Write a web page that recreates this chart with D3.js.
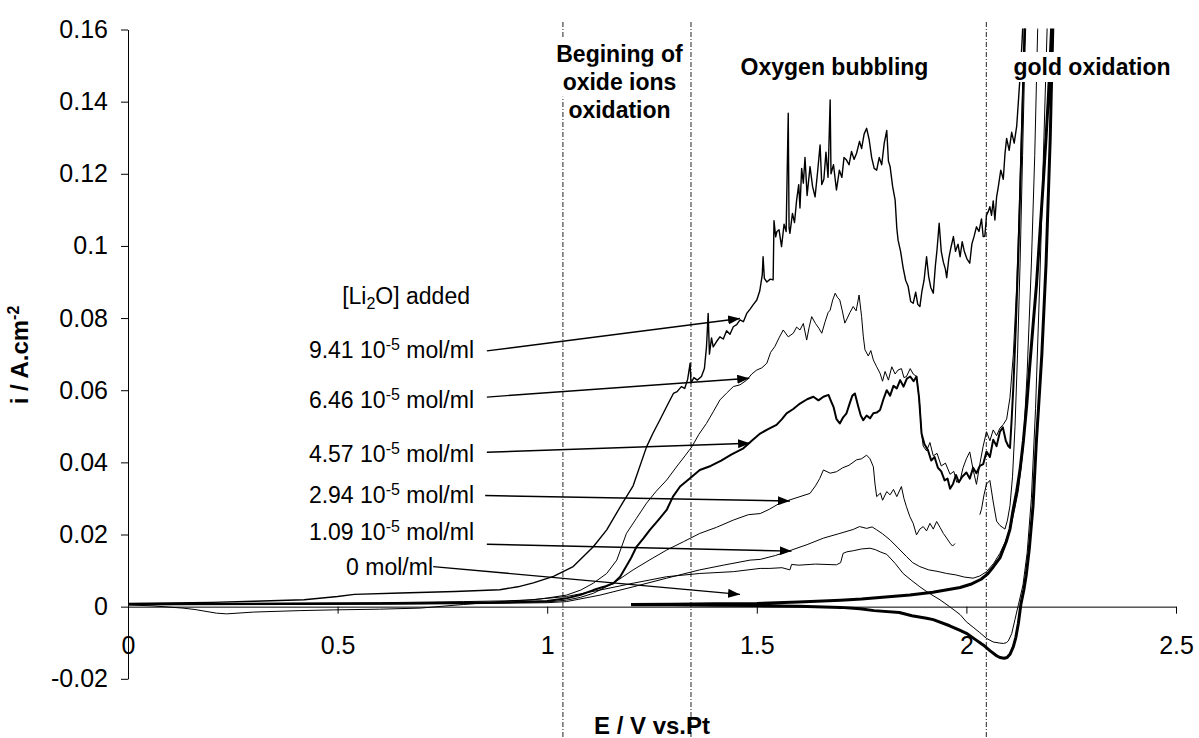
<!DOCTYPE html>
<html><head><meta charset="utf-8">
<script src="https://cdn.jsdelivr.net/npm/d3@7"></script>
<style>
html,body{margin:0;padding:0;background:#fff;}
svg{display:block;font-family:"Liberation Sans",Arial,Helvetica,sans-serif;}
text{white-space:pre;}
</style></head><body>
<svg id="chart" width="1199" height="738"></svg>
<script>
// ---------------- DATA ----------------
const xTicks = [0, 0.5, 1, 1.5, 2, 2.5];
const xTickLabels = ["0", "0.5", "1", "1.5", "2", "2.5"];
const yTicks = [-0.02, 0, 0.02, 0.04, 0.06, 0.08, 0.1, 0.12, 0.14, 0.16];
const yTickLabels = ["-0.02", "0", "0.02", "0.04", "0.06", "0.08", "0.1", "0.12", "0.14", "0.16"];

// region boundaries (E / V)
const regionBounds = [1.0375, 1.343, 2.0475];
const regionTitles = [["Begining of", "oxide ions", "oxidation"], ["Oxygen bubbling"], ["gold oxidation"]];

// concentration labels ([Li2O] added, 10^-5 mol/ml)
const concMantissa = ["9.41", "6.46", "4.57", "2.94", "1.09", "0"];
// arrow start / tip in data units (E, i)
const arrowFrom = [[0.856, 0.0709], [0.856, 0.0581], [0.856, 0.0428], [0.852, 0.0308], [0.856, 0.0173], [0.728, 0.0111]];
const arrowTo   = [[1.460, 0.0799], [1.482, 0.0633], [1.484, 0.0453], [1.579, 0.0293], [1.583, 0.0154], [1.460, 0.0034]];

// 9.41e-5 mol/ml
const cv941 = [[0,0.0009],[0.1,0.0010],[0.2,0.0012],[0.3,0.0015],[0.42,0.0019],[0.5,0.0028],[0.54,0.0034],[0.65,0.0038],[0.78,0.0042],[0.887,0.0047],[0.93,0.0055],[0.967,0.0066],[1.015,0.0084],[1.062,0.0111],[1.11,0.0166],[1.142,0.0213],[1.181,0.0290],[1.205,0.0335],[1.237,0.0443],[1.252,0.048],[1.269,0.0518],[1.285,0.0555],[1.301,0.0591],[1.31,0.0596],[1.32,0.061],[1.328,0.0605],[1.335,0.063],[1.341,0.0675],[1.343,0.062],[1.35,0.0635],[1.358,0.0628],[1.368,0.0638],[1.375,0.066],[1.38,0.072],[1.384,0.0813],[1.387,0.070],[1.392,0.0745],[1.396,0.072],[1.404,0.0735],[1.412,0.0748],[1.42,0.0742],[1.428,0.0765],[1.436,0.0755],[1.444,0.0776],[1.452,0.0782],[1.46,0.0795],[1.468,0.079],[1.476,0.0813],[1.484,0.0825],[1.492,0.0838],[1.5,0.085],[1.507,0.0875],[1.513,0.092],[1.515,0.097],[1.518,0.091],[1.524,0.090],[1.532,0.0908],[1.539,0.0906],[1.541,0.107],[1.545,0.1025],[1.548,0.104],[1.553,0.1045],[1.559,0.0998],[1.565,0.106],[1.57,0.104],[1.575,0.1368],[1.577,0.105],[1.579,0.1035],[1.585,0.109],[1.59,0.1065],[1.595,0.1127],[1.6,0.117],[1.603,0.1105],[1.607,0.1215],[1.611,0.1174],[1.615,0.1245],[1.62,0.114],[1.627,0.122],[1.633,0.1165],[1.639,0.1136],[1.645,0.1205],[1.651,0.128],[1.655,0.117],[1.66,0.1185],[1.665,0.126],[1.67,0.119],[1.675,0.1405],[1.677,0.120],[1.683,0.1225],[1.69,0.1155],[1.697,0.121],[1.703,0.119],[1.708,0.1245],[1.714,0.1238],[1.72,0.1225],[1.726,0.1262],[1.732,0.124],[1.738,0.1257],[1.745,0.129],[1.75,0.127],[1.756,0.131],[1.762,0.1326],[1.768,0.1295],[1.774,0.1245],[1.78,0.1215],[1.786,0.121],[1.792,0.1245],[1.798,0.1225],[1.804,0.1285],[1.81,0.132],[1.814,0.1235],[1.818,0.122],[1.824,0.1165],[1.83,0.1127],[1.834,0.1049],[1.837,0.1016],[1.843,0.0985],[1.849,0.094],[1.855,0.0905],[1.861,0.0888],[1.867,0.0846],[1.873,0.0841],[1.879,0.0872],[1.884,0.0838],[1.889,0.0832],[1.894,0.0875],[1.899,0.0905],[1.905,0.097],[1.91,0.0915],[1.915,0.0885],[1.921,0.0869],[1.926,0.0945],[1.93,0.099],[1.935,0.1063],[1.94,0.0985],[1.945,0.0955],[1.95,0.0935],[1.953,0.0912],[1.958,0.0965],[1.963,0.0995],[1.969,0.1026],[1.974,0.0985],[1.98,0.1005],[1.985,0.097],[1.99,0.1012],[1.995,0.0985],[2.001,0.0965],[2.008,0.0952],[2.013,0.1005],[2.018,0.1025],[2.024,0.1053],[2.03,0.104],[2.036,0.1075],[2.04,0.1026],[2.044,0.1027],[2.048,0.1085],[2.052,0.1095],[2.056,0.1109],[2.06,0.1085],[2.064,0.1125],[2.068,0.1072],[2.072,0.1135],[2.076,0.1163],[2.082,0.121],[2.088,0.1185],[2.092,0.1255],[2.096,0.1298],[2.102,0.1265],[2.108,0.1315],[2.114,0.1285],[2.12,0.1332],[2.124,0.14],[2.128,0.147],[2.132,0.155],[2.135,0.162],[2.138,0.17]];

// 6.46e-5 mol/ml
const cv646 = [[0,0.0008],[0.3,0.0009],[0.6,0.0011],[0.8,0.0014],[0.9,0.0016],[0.967,0.0019],[1.0,0.0024],[1.046,0.0032],[1.08,0.0046],[1.11,0.0065],[1.142,0.0092],[1.166,0.0129],[1.189,0.0203],[1.213,0.0245],[1.237,0.0287],[1.26,0.032],[1.285,0.0351],[1.31,0.039],[1.33,0.042],[1.345,0.0443],[1.362,0.0478],[1.38,0.0508],[1.396,0.054],[1.412,0.0573],[1.428,0.0592],[1.444,0.061],[1.46,0.0615],[1.476,0.0628],[1.488,0.0645],[1.5,0.0656],[1.512,0.0662],[1.524,0.0675],[1.533,0.0705],[1.543,0.0721],[1.553,0.0745],[1.563,0.0767],[1.575,0.0748],[1.587,0.0758],[1.595,0.0775],[1.603,0.0767],[1.611,0.0785],[1.619,0.0739],[1.625,0.0775],[1.631,0.0804],[1.64,0.0785],[1.648,0.0772],[1.655,0.0758],[1.663,0.079],[1.67,0.0815],[1.675,0.0822],[1.681,0.085],[1.687,0.0869],[1.692,0.0858],[1.698,0.085],[1.704,0.082],[1.71,0.0786],[1.716,0.08],[1.722,0.0815],[1.73,0.0832],[1.737,0.082],[1.744,0.0864],[1.75,0.0804],[1.754,0.075],[1.758,0.0712],[1.766,0.0695],[1.772,0.071],[1.778,0.0684],[1.786,0.0665],[1.794,0.0647],[1.8,0.0625],[1.806,0.0652],[1.814,0.0628],[1.822,0.0665],[1.83,0.0645],[1.837,0.0656],[1.845,0.066],[1.851,0.0635],[1.857,0.0638],[1.866,0.066],[1.873,0.0645],[1.881,0.0638],[1.885,0.060],[1.889,0.0554],[1.893,0.048],[1.897,0.0445],[1.905,0.0432],[1.913,0.0455],[1.921,0.0418],[1.93,0.0425],[1.94,0.039],[1.95,0.0398],[1.961,0.0367],[1.97,0.0375],[1.977,0.0345],[1.985,0.035],[1.992,0.0385],[2.0,0.041],[2.008,0.0429],[2.016,0.038],[2.024,0.0339],[2.032,0.0395],[2.04,0.0445],[2.048,0.0485],[2.056,0.046],[2.064,0.049],[2.072,0.0474],[2.08,0.0495],[2.088,0.0505],[2.096,0.052],[2.104,0.058],[2.112,0.07],[2.12,0.089],[2.126,0.11],[2.132,0.134],[2.138,0.16],[2.142,0.17]];

// 4.57e-5 mol/ml
const cv457 = [[0,0.0007],[0.3,0.0008],[0.6,0.0009],[0.9,0.0012],[1.0,0.0016],[1.046,0.0023],[1.08,0.0033],[1.11,0.0046],[1.135,0.0055],[1.158,0.0065],[1.174,0.0083],[1.19,0.0115],[1.2,0.0135],[1.213,0.0166],[1.23,0.019],[1.245,0.0213],[1.265,0.024],[1.285,0.0268],[1.3,0.0305],[1.317,0.0333],[1.34,0.0355],[1.364,0.0379],[1.39,0.039],[1.415,0.0405],[1.44,0.0422],[1.468,0.0439],[1.49,0.0462],[1.508,0.048],[1.527,0.0492],[1.547,0.0504],[1.56,0.052],[1.571,0.0536],[1.587,0.0548],[1.603,0.0563],[1.62,0.0575],[1.635,0.0582],[1.647,0.0572],[1.659,0.0582],[1.671,0.0587],[1.677,0.057],[1.683,0.0554],[1.69,0.052],[1.698,0.0508],[1.706,0.0525],[1.714,0.0536],[1.722,0.0565],[1.728,0.0585],[1.734,0.0591],[1.742,0.0555],[1.748,0.053],[1.754,0.0517],[1.762,0.053],[1.77,0.0522],[1.778,0.0536],[1.786,0.0538],[1.794,0.0545],[1.802,0.0575],[1.81,0.06],[1.818,0.0585],[1.826,0.0612],[1.834,0.0605],[1.842,0.0628],[1.85,0.061],[1.858,0.0632],[1.866,0.0638],[1.874,0.0625],[1.881,0.0638],[1.887,0.058],[1.893,0.048],[1.9,0.045],[1.908,0.0435],[1.916,0.0405],[1.924,0.0415],[1.932,0.0385],[1.94,0.0375],[1.948,0.035],[1.955,0.0355],[1.961,0.0327],[1.968,0.034],[1.975,0.0365],[1.982,0.0345],[1.99,0.036],[2.0,0.0372],[2.008,0.0355],[2.016,0.0385],[2.024,0.037],[2.032,0.039],[2.04,0.0395],[2.048,0.043],[2.056,0.0415],[2.064,0.0463],[2.072,0.0445],[2.08,0.0485],[2.087,0.0497],[2.094,0.046],[2.1,0.0445],[2.104,0.044],[2.108,0.052],[2.112,0.061],[2.118,0.078],[2.124,0.098],[2.13,0.122],[2.136,0.148],[2.14,0.165]];

// 2.94e-5 mol/ml (null = gap in the record)
const cv294 = [[0,0.0006],[0.4,0.0007],[0.8,0.0009],[1.0,0.0013],[1.046,0.0018],[1.08,0.0026],[1.11,0.0037],[1.158,0.0065],[1.205,0.0102],[1.245,0.013],[1.285,0.0157],[1.325,0.018],[1.364,0.0203],[1.404,0.022],[1.444,0.024],[1.48,0.0255],[1.508,0.0258],[1.53,0.027],[1.555,0.0287],[1.579,0.0296],[1.603,0.0305],[1.627,0.0314],[1.64,0.0335],[1.65,0.0355],[1.659,0.0379],[1.675,0.037],[1.69,0.0374],[1.705,0.0385],[1.72,0.0392],[1.738,0.0407],[1.75,0.041],[1.762,0.042],[1.77,0.041],[1.778,0.0388],[1.782,0.034],[1.786,0.0305],[1.795,0.0315],[1.8,0.0295],[1.81,0.0319],[1.818,0.031],[1.826,0.0325],[1.834,0.0305],[1.845,0.0333],[1.851,0.03],[1.857,0.0277],[1.865,0.025],[1.873,0.0231],[1.881,0.0199],[1.889,0.0215],[1.897,0.0222],[1.905,0.021],[1.913,0.0231],[1.921,0.0215],[1.929,0.0236],[1.937,0.022],[1.945,0.0203],[1.953,0.019],[1.961,0.0176],[1.967,0.0168],[1.973,0.0175],null,[2.032,0.0255],[2.036,0.027],[2.042,0.031],[2.048,0.034],[2.056,0.035],[2.064,0.029],[2.072,0.0237],[2.08,0.0225],[2.092,0.0215],[2.098,0.024],[2.104,0.028],[2.11,0.036],[2.116,0.05],[2.122,0.07],[2.128,0.095],[2.134,0.125],[2.14,0.155],[2.144,0.17]];

// 1.09e-5 mol/ml, forward scan
const cv109 = [[0,0.0005],[0.4,0.0006],[0.8,0.0008],[1.0,0.0011],[1.046,0.0014],[1.126,0.0032],[1.205,0.0055],[1.285,0.0079],[1.364,0.0102],[1.42,0.0115],[1.484,0.0129],[1.508,0.0131],[1.545,0.0142],[1.583,0.0157],[1.62,0.0172],[1.659,0.019],[1.695,0.0202],[1.73,0.0214],[1.745,0.0222],[1.762,0.0217],[1.775,0.0221],[1.786,0.0213],[1.8,0.0202],[1.818,0.0185],[1.835,0.0165],[1.857,0.0139],[1.872,0.0122],[1.889,0.0111],[1.91,0.0102],[1.93,0.0098],[1.953,0.0092],[1.975,0.0088],[1.995,0.0082],[2.016,0.0079],[2.032,0.0085],[2.048,0.0097],[2.065,0.012],[2.08,0.0148],[2.093,0.018],[2.104,0.0213],[2.115,0.027],[2.124,0.0323],[2.135,0.0434],[2.145,0.065],[2.155,0.095],[2.163,0.125],[2.17,0.16],[2.173,0.17]];

// return scan
const cvReturn = [[2.195,0.17],[2.185,0.13],[2.175,0.09],[2.165,0.055],[2.155,0.03],[2.145,0.015],[2.135,0.006],[2.124,0.0005],[2.116,-0.0035],[2.108,-0.0075],[2.1,-0.0095],[2.095,-0.0100],[2.088,-0.0102],[2.08,-0.0101],[2.064,-0.0098],[2.048,-0.0088],[2.032,-0.0072],[2.016,-0.0057],[2.0,-0.0042],[1.985,-0.0022],[1.96,0.0000],[1.937,0.0019],[1.91,0.0038],[1.889,0.0055],[1.87,0.0072],[1.849,0.0092],[1.83,0.012],[1.81,0.0145],[1.794,0.0152],[1.783,0.0158],[1.77,0.0162],[1.75,0.016],[1.73,0.0155],[1.715,0.0152],[1.706,0.0148],[1.7,0.0122],[1.69,0.0116],[1.64,0.0118],[1.6,0.0115],[1.583,0.0117],[1.579,0.0102],[1.56,0.0108],[1.531,0.0106],[1.508,0.0106],[1.444,0.0097],[1.364,0.0092],[1.285,0.0083],[1.205,0.0065],[1.126,0.0046],[1.046,0.0028],[0.95,0.0018],[0.887,0.0014],[0.8,0.0006],[0.697,-0.0004],[0.6,-0.0007],[0.49,-0.0009],[0.41,-0.0011],[0.3,-0.0015],[0.235,-0.002],[0.211,-0.0018],[0.16,-0.0008],[0.131,-0.0004],[0.06,0.0002],[0,0.0005]];

// 0 mol/ml (blank), forward and reverse
const cv0 = [[1.2,0.0006],[1.3,0.0007],[1.4,0.0008],[1.5,0.0009],[1.6,0.0013],[1.7,0.0018],[1.75,0.0021],[1.8,0.0026],[1.865,0.0032],[1.92,0.0040],[1.985,0.0053],[2.01,0.0062],[2.035,0.0076],[2.05,0.009],[2.064,0.011],[2.08,0.0135],[2.095,0.0180],[2.104,0.0215],[2.111,0.0265],[2.12,0.032],[2.128,0.038],[2.136,0.046],[2.144,0.056],[2.151,0.0666],[2.159,0.078],[2.167,0.089],[2.175,0.103],[2.183,0.117],[2.19,0.13],[2.195,0.14],[2.2,0.152],[2.205,0.165],[2.208,0.17],[2.2,0.13],[2.19,0.095],[2.18,0.07],[2.172,0.055],[2.167,0.046],[2.159,0.028],[2.15,0.016],[2.143,0.009],[2.137,0.0046],[2.13,0.0007],[2.124,-0.0046],[2.118,-0.0085],[2.112,-0.0111],[2.104,-0.0132],[2.097,-0.0141],[2.09,-0.0143],[2.08,-0.0141],[2.072,-0.0136],[2.056,-0.0122],[2.04,-0.0106],[2.02,-0.009],[2.0,-0.0074],[1.985,-0.0066],[1.96,-0.0053],[1.921,-0.0036],[1.905,-0.0032],[1.87,-0.0025],[1.84,-0.0016],[1.78,-0.0011],[1.746,-0.0006],[1.7,-0.0002],[1.6,0.0001],[1.5,0.0003],[1.4,0.0004],[1.3,0.0005],[1.2,0.0005]];

const curves = [
  {data: cv0, w: 3},
  {data: cvReturn, w: 1},
  {data: cv109, w: 1},
  {data: cv294, w: 1},
  {data: cv457, w: 2},
  {data: cv646, w: 1},
  {data: cv941, w: 1.4}
];

// ---------------- DRAW ----------------
const W = 1199, H = 738;
const FONT = '"Liberation Sans", Arial, Helvetica, sans-serif';
const svg = d3.select("#chart");
const x = d3.scaleLinear().domain([0, 2.5]).range([128, 1176]);
const y = d3.scaleLinear().domain([-0.02, 0.16]).range([678.8, 29.5]);

const defs = svg.append("defs");
defs.append("clipPath").attr("id", "plotClip").append("rect")
  .attr("x", 0).attr("y", y(0.16) - 1).attr("width", W).attr("height", H);
defs.append("marker").attr("id", "arrowHead")
  .attr("viewBox", "0 0 12 9").attr("refX", 12).attr("refY", 4.5)
  .attr("markerWidth", 12).attr("markerHeight", 9)
  .attr("markerUnits", "userSpaceOnUse").attr("orient", "auto")
  .append("path").attr("d", "M0,0L12,4.5L0,9Z").attr("fill", "#000");

// axes
const yAxis = d3.axisLeft(y).tickValues(yTicks)
  .tickFormat(d => yTickLabels[yTicks.indexOf(d)])
  .tickSize(7).tickSizeOuter(0).tickPadding(13);
const gy = svg.append("g").attr("transform", `translate(${x(0)},0)`).call(yAxis)
  .attr("font-family", FONT).attr("font-size", 25);
gy.selectAll("line,path").attr("stroke", "#000");
gy.selectAll("text").attr("fill", "#000");

const xAxis = d3.axisBottom(x).tickValues(xTicks)
  .tickFormat(d => xTickLabels[xTicks.indexOf(d)])
  .tickSize(7).tickSizeOuter(0).tickPadding(23);
const gx = svg.append("g").attr("transform", `translate(0,${y(0)})`).call(xAxis)
  .attr("font-family", FONT).attr("font-size", 25);
gx.selectAll("line,path").attr("stroke", "#000");
gx.selectAll("text").attr("fill", "#000");

// region boundary lines (dash-dot)
svg.append("g").selectAll("line").data(regionBounds).join("line")
  .attr("x1", d => x(d)).attr("x2", d => x(d))
  .attr("y1", 22).attr("y2", H)
  .attr("stroke", "#222").attr("stroke-width", 1)
  .attr("stroke-dasharray", "5,2,1,2");

// curves
const line = d3.line().defined(d => d !== null).x(d => x(d[0])).y(d => y(d[1]));
svg.append("g").attr("clip-path", "url(#plotClip)")
  .selectAll("path").data(curves).join("path")
  .attr("d", d => line(d.data))
  .attr("fill", "none").attr("stroke", "#000")
  .attr("stroke-width", d => d.w).attr("stroke-linejoin", "round");

// region titles with white boxes
const ann = svg.append("g").attr("font-family", FONT).attr("font-weight", "bold")
  .attr("font-size", 23).attr("fill", "#000").attr("text-anchor", "middle");
const regionCenters = [619.5, 834.5, 1092];
const regionBaselines = [[61.5, 89.7, 117.9], [75], [75]];
regionTitles.forEach((lines, k) => {
  lines.forEach((s, j) => {
    const t = ann.append("text").attr("x", regionCenters[k]).attr("y", regionBaselines[k][j]).text(s);
    const bb = t.node().getBBox();
    ann.insert("rect", () => t.node())
      .attr("x", bb.x - 2).attr("y", bb.y - 2).attr("width", bb.width + 4).attr("height", bb.height + 4)
      .attr("fill", "#fff");
  });
});

// concentration labels and arrows
const lab = svg.append("g").attr("font-family", FONT).attr("font-size", 23).attr("fill", "#000");
const headY = lab.append("text").attr("x", 470).attr("y", 304).attr("text-anchor", "end");
headY.append("tspan").text("[Li");
headY.append("tspan").attr("font-size", 16).attr("dy", 5).text("2");
headY.append("tspan").attr("dy", -5).text("O] added");

const labelBaselines = [358, 408, 461.7, 503, 540, 575];
const labelRight = [474, 474, 474, 474, 474, 433];
concMantissa.forEach((m, k) => {
  const t = lab.append("text").attr("x", labelRight[k]).attr("y", labelBaselines[k]).attr("text-anchor", "end");
  if (m === "0") {
    t.text("0 mol/ml");
  } else {
    t.append("tspan").text(m + " 10");
    t.append("tspan").attr("font-size", 16).attr("dy", -8).text("-5");
    t.append("tspan").attr("dy", 8).text(" mol/ml");
  }
});
svg.append("g").selectAll("line").data(arrowFrom).join("line")
  .attr("x1", d => x(d[0])).attr("y1", d => y(d[1]))
  .attr("x2", (d, i) => x(arrowTo[i][0])).attr("y2", (d, i) => y(arrowTo[i][1]))
  .attr("stroke", "#000").attr("stroke-width", 1.4)
  .attr("marker-end", "url(#arrowHead)");

// axis titles
const yt = svg.append("text").attr("transform", "translate(28,355) rotate(-90)")
  .attr("text-anchor", "middle").attr("font-family", FONT).attr("font-weight", "bold")
  .attr("font-size", 24).attr("fill", "#000");
yt.append("tspan").text("i / A.cm");
yt.append("tspan").attr("font-size", 16).attr("dy", -9).text("-2");

svg.append("text").attr("x", 652).attr("y", 734).attr("text-anchor", "middle")
  .attr("font-family", FONT).attr("font-weight", "bold").attr("font-size", 24)
  .attr("fill", "#000").text("E / V vs.Pt");
</script>
</body></html>
